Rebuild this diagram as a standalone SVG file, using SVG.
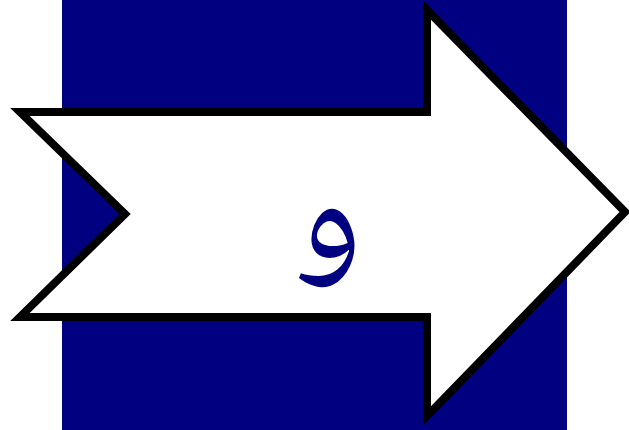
<svg xmlns="http://www.w3.org/2000/svg" width="629" height="430" viewBox="0 0 629 430">
<style>
.bg{fill:#000080}
.arrow{fill:#fff;stroke:#000;stroke-width:8;stroke-linejoin:miter;stroke-miterlimit:10}
.lbl{fill:#000080;font-family:"Noto Naskh Arabic",serif;font-size:145px;text-anchor:middle}
</style>
<rect class="bg" x="62" y="0" width="505" height="430"/>
<g id="arrow">
<polygon class="arrow" points="20,112 427,112 427,10 625,212 427,416 427,317 20,317 125,214"/>
<text class="lbl" x="328" y="258">و</text>
</g>
</svg>
